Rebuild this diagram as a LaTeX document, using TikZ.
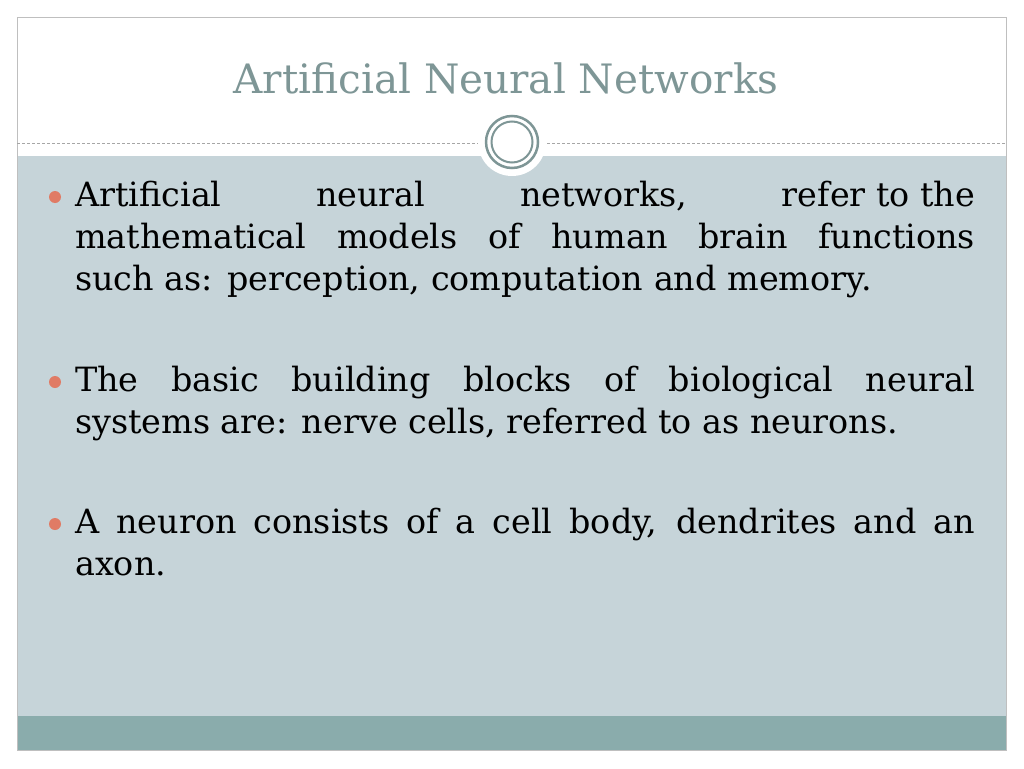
\documentclass[tikz,border=0pt]{standalone}
\usepackage{fontspec}
\setmainfont{DejaVu Serif}
\definecolor{bodybg}{HTML}{C6D4D9}
\definecolor{barbg}{HTML}{8AACAC}
\definecolor{ring}{HTML}{7E9696}
\definecolor{titlec}{HTML}{7E9696}
\definecolor{bullet}{HTML}{E07B65}
\tikzset{para/.style={anchor=north west,text width=900pt,align=justify,inner sep=0pt,font=\fontsize{33.4}{42}\selectfont},
dot/.style={circle,fill=bullet,inner sep=0pt,minimum size=12pt}}
\begin{document}
\begin{tikzpicture}[x=1pt,y=-1pt]
\useasboundingbox (0,0) rectangle (1024,768);
\fill[white] (0,0) rectangle (1024,768);
\fill[bodybg] (17,156) rectangle (1006,716);
\fill[barbg] (17,716) rectangle (1006,750);
\draw[gray!50] (17,17) rectangle (1006,750);
\draw[gray!70,dash pattern=on 3pt off 2pt] (17,143) -- (1006,143);
\fill[white] (512,142) circle (34);
\draw[ring,line width=2.5pt] (512,142) circle (26);
\draw[ring,line width=2pt] (512,142) circle (20.5);
\node[font=\fontsize{40.5}{46}\selectfont,text=titlec] (title) at (506,78) {Artificial Neural Networks};
\node[dot] (b1) at (55,197) {};
\node[dot] (b2) at (55,382) {};
\node[dot] (b3) at (55,524) {};
\node[para] (p1) at (75,181) {Artificial \hfill neural \hfill networks, \hfill refer to the\linebreak mathematical models of human brain functions\linebreak such as: perception, computation and memory.};
\node[para] (p2) at (75,366) {The basic building blocks of biological neural\linebreak systems are: nerve cells, referred to as neurons.};
\node[para] (p3) at (75,508) {A neuron consists of a cell body, dendrites and an\linebreak axon.};
\end{tikzpicture}
\end{document}
